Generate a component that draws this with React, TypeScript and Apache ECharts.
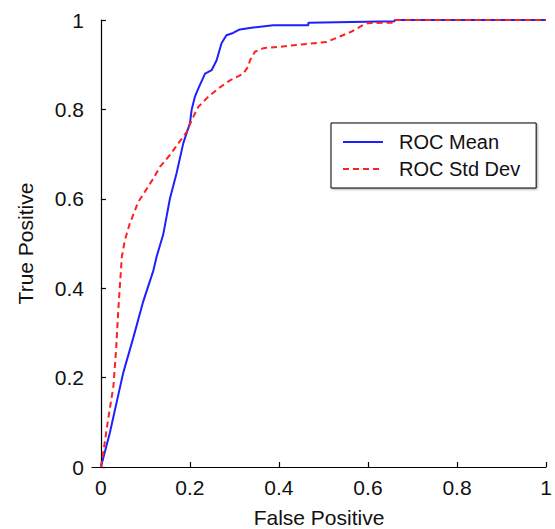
import React, { useEffect, useRef } from "react";
import * as echarts from "echarts";

const meanFP = [0, 0.02, 0.05, 0.073, 0.095, 0.118, 0.125, 0.14, 0.155, 0.17, 0.185, 0.2, 0.204, 0.211, 0.219, 0.234, 0.249, 0.26, 0.271, 0.282, 0.297, 0.312, 0.342, 0.387, 0.466, 0.466, 0.66, 0.66, 1];
const meanTP = [0, 0.076, 0.21, 0.29, 0.37, 0.44, 0.47, 0.52, 0.6, 0.657, 0.724, 0.769, 0.8, 0.828, 0.847, 0.88, 0.888, 0.91, 0.948, 0.966, 0.971, 0.979, 0.983, 0.988, 0.988, 0.994, 0.997, 1, 1];

const stdFP = [0, 0.005, 0.016, 0.028, 0.034, 0.039, 0.044, 0.047, 0.054, 0.065, 0.084, 0.099, 0.118, 0.133, 0.155, 0.174, 0.193, 0.204, 0.219, 0.241, 0.264, 0.29, 0.32, 0.331, 0.335, 0.346, 0.365, 0.402, 0.447, 0.507, 0.537, 0.563, 0.589, 0.6, 0.657, 0.66, 1];
const stdTP = [0, 0.03, 0.105, 0.18, 0.26, 0.35, 0.425, 0.47, 0.508, 0.545, 0.593, 0.616, 0.646, 0.672, 0.698, 0.724, 0.75, 0.776, 0.806, 0.828, 0.847, 0.865, 0.88, 0.896, 0.91, 0.929, 0.937, 0.94, 0.945, 0.951, 0.963, 0.974, 0.989, 0.993, 0.994, 1, 1];

const tickValues = [0, 0.2, 0.4, 0.6, 0.8, 1];
const seriesNames = ["ROC Mean", "ROC Std Dev"];
const xName = "False Positive";
const yName = "True Positive";

const FONT = "'Liberation Sans', Arial, sans-serif";
const TEXT = "#111";

export default function App() {
  const ref = useRef<HTMLDivElement>(null);
  useEffect(() => {
    if (!ref.current) return;
    const chart = echarts.init(ref.current, undefined, { renderer: "svg" });
    const pairs = (xs: number[], ys: number[]) => xs.map((x, i) => [x, ys[i]]);
    chart.setOption({
      animation: false,
      textStyle: { fontFamily: FONT },
      grid: { left: 92, right: 9, top: 20, bottom: 62, containLabel: false, outerBoundsMode: "none" },
      xAxis: {
        type: "value",
        min: -0.02,
        max: 1,
        name: xName,
        nameLocation: "middle",
        nameGap: 40,
        nameTextStyle: { fontSize: 21, lineHeight: 21, color: TEXT, fontFamily: FONT },
        axisLine: { show: true, onZero: false, lineStyle: { color: "#000", width: 1.2 } },
        axisTick: { show: true, inside: true, length: 5, customValues: tickValues, lineStyle: { color: "#000", width: 1.2 } },
        axisLabel: { customValues: tickValues, fontSize: 21, color: TEXT, margin: 10, fontFamily: FONT, formatter: (v: number) => String(v) },
        splitLine: { show: false },
      },
      yAxis: {
        type: "value",
        min: 0,
        max: 1,
        interval: 0.2,
        name: yName,
        nameLocation: "middle",
        nameGap: 56,
        nameRotate: 90,
        nameTextStyle: { fontSize: 21, color: TEXT, fontFamily: FONT },
        axisLine: { show: true, lineStyle: { color: "#000", width: 1.2 } },
        axisTick: { show: true, inside: true, length: 5, lineStyle: { color: "#000", width: 1.2 } },
        axisLabel: { fontSize: 21, color: TEXT, margin: 8, fontFamily: FONT, formatter: (v: number) => String(v) },
        splitLine: { show: false },
      },
      legend: {
        orient: "vertical",
        left: 331,
        top: 123,
        padding: [9, 16, 9, 11],
        itemGap: 7,
        itemWidth: 40,
        itemHeight: 14,
        borderColor: "#000",
        borderWidth: 1,
        backgroundColor: "#fff",
        shadowColor: "rgba(0,0,0,0.35)",
        shadowBlur: 2,
        shadowOffsetX: 1,
        shadowOffsetY: 1,
        itemStyle: { opacity: 0, borderWidth: 0 },
        textStyle: { fontSize: 20, color: TEXT, fontFamily: FONT, padding: [0, 0, 0, 11] },
        data: seriesNames,
      },
      series: [
        {
          name: seriesNames[0],
          type: "line",
          data: pairs(meanFP, meanTP),
          symbol: "none",
          lineStyle: { color: "#2020ff", width: 2 },
          itemStyle: { color: "#2020ff" },
        },
        {
          name: seriesNames[1],
          type: "line",
          data: pairs(stdFP, stdTP),
          symbol: "none",
          lineStyle: { color: "#ff2020", width: 2, type: [6, 4] },
          itemStyle: { color: "#ff2020" },
        },
      ],
    });
    return () => chart.dispose();
  }, []);
  return <div ref={ref} style={{ position: "absolute", left: 0, top: 0, width: 555, height: 529 }} />;
}
